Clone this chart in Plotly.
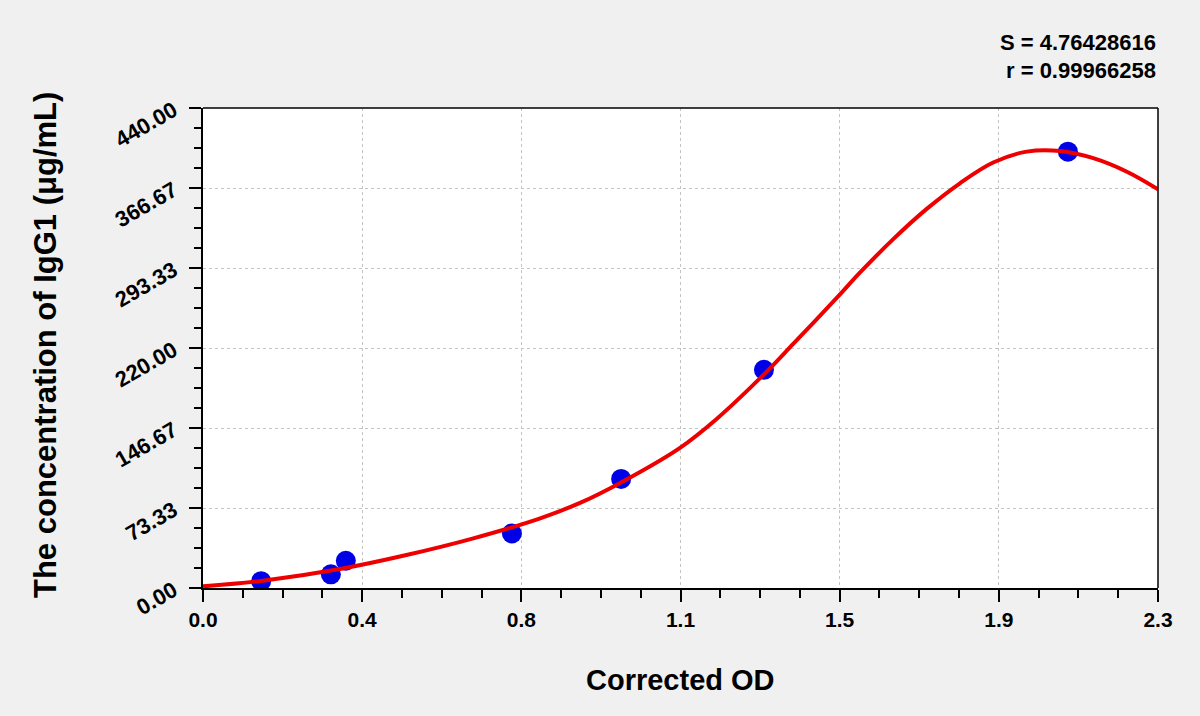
import plotly.graph_objects as go
import numpy as np

# standard points (Corrected OD vs concentration)
std_od = [0.140, 0.308, 0.344, 0.744, 1.007, 1.351, 2.083]
std_conc = [6.25, 12.5, 25, 50, 100, 200, 400]

# fitted curve
fit_od = [0.00, 0.14, 0.33, 0.49, 0.651, 0.812, 0.908, 1.008, 1.147, 1.237,
          1.354, 1.422, 1.529, 1.582, 1.663, 1.743, 1.823, 1.903, 1.984, 2.064,
          2.144, 2.225, 2.30]
fit_conc = [1.5, 6.5, 17.4, 30.2, 45.5, 63.9, 78.0, 97.0, 128.0, 155.0,
            197.0, 224.0, 267.0, 289.0, 320.0, 347.5, 371.0, 390.0, 400.0, 400.6,
            394.0, 381.6, 365.5]

stats_text = ["S = 4.76428616", "r = 0.99966258"]

x_max = 2.3
y_max = 440.0

FONT = "Liberation Sans, Arial, sans-serif"


def create_figure():
    fig = go.Figure()

    # blue dots first so the red line sits on top
    fig.add_trace(go.Scatter(
        x=std_od, y=std_conc, mode='markers',
        marker=dict(size=20, color='#0000e6', line=dict(width=0)),
        showlegend=False, hoverinfo='x+y'
    ))
    fig.add_trace(go.Scatter(
        x=fit_od, y=fit_conc, mode='lines',
        line=dict(color='#ee0000', width=4, shape='spline', smoothing=1.0),
        showlegend=False, hoverinfo='skip'
    ))

    x_ticks = np.linspace(0, x_max, 7)
    y_ticks = np.linspace(0, y_max, 7)
    x_minor = np.linspace(0, x_max, 25)
    y_minor = np.linspace(0, y_max, 25)

    fig.update_layout(
        width=1200, height=716,
        paper_bgcolor='#f0f0f0',
        plot_bgcolor='white',
        margin=dict(l=203, r=42, t=108, b=128, autoexpand=False),
        font=dict(family=FONT, color='black'),
        xaxis=dict(
            range=[0, x_max],
            tickmode='array',
            tickvals=list(x_ticks),
            ticktext=['%.1f' % v for v in x_ticks],
            tickfont=dict(size=21, family=FONT, weight='bold'),
            ticks='outside', ticklen=12, tickwidth=2, tickcolor='black',
            ticklabelstandoff=0,
            showline=True, linecolor='black', linewidth=2,
            showgrid=True, gridcolor='#c4c4c4', griddash='dot', gridwidth=1,
            zeroline=False,
            minor=dict(tickmode='array', tickvals=list(x_minor), ticks='outside',
                       ticklen=8, tickwidth=2, tickcolor='black', showgrid=False),
        ),
        yaxis=dict(
            range=[0, y_max],
            tickmode='array',
            tickvals=list(y_ticks),
            ticktext=['%.2f' % v for v in y_ticks],
            tickangle=-30,
            tickfont=dict(size=22, family=FONT, weight='bold'),
            ticks='outside', ticklen=12, tickwidth=2, tickcolor='black',
            ticklabelstandoff=11,
            showline=True, linecolor='black', linewidth=2,
            showgrid=True, gridcolor='#c4c4c4', griddash='dot', gridwidth=1,
            zeroline=False,
            minor=dict(tickmode='array', tickvals=list(y_minor), ticks='outside',
                       ticklen=7, tickwidth=2, tickcolor='black', showgrid=False),
        ),
    )

    # thin frame on top and right
    fig.add_shape(type='line', xref='paper', yref='paper', x0=0, x1=1, y0=1, y1=1,
                  line=dict(color='black', width=1.5))
    fig.add_shape(type='line', xref='paper', yref='paper', x0=1, x1=1, y0=0, y1=1,
                  line=dict(color='black', width=1.5))

    # axis titles
    fig.add_annotation(
        text='Corrected OD', xref='paper', yref='paper',
        x=(680 - 203) / 955, y=-(680 - 588) / 480,
        xanchor='center', yanchor='middle', showarrow=False,
        font=dict(size=29, family=FONT, weight='bold')
    )
    fig.add_annotation(
        text='The concentration of IgG1 (μg/mL)', xref='paper', yref='paper',
        x=(45 - 203) / 955, y=(588 - 345) / 480, textangle=-90,
        xanchor='center', yanchor='middle', showarrow=False,
        font=dict(size=31, family=FONT, weight='bold')
    )

    # S and r in the top right corner
    for i, line in enumerate(stats_text):
        fig.add_annotation(
            text=line, xref='paper', yref='paper',
            x=1.0, y=(588 - (42 + 28 * i)) / 480,
            xanchor='right', yanchor='middle', showarrow=False,
            font=dict(size=22, family=FONT, weight='bold')
        )

    return fig


if __name__ == '__main__':
    fig = create_figure()
    # drop the page's default body margin so the figure fills the window
    fig.write_html("out.html", config={'displayModeBar': False},
                   post_script="document.body.style.margin='0px';")
